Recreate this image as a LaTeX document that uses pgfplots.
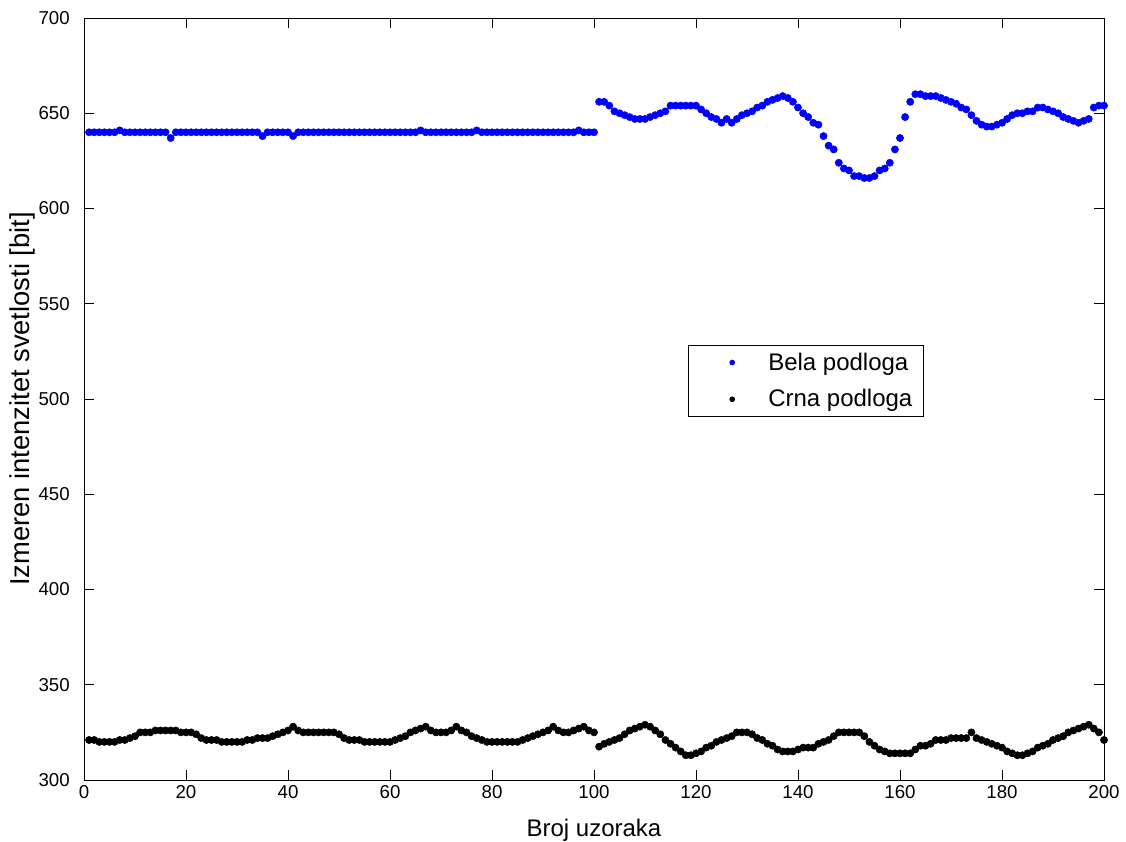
\documentclass[border=0pt]{standalone}
\usepackage{pgfplots}
\pgfplotsset{compat=1.18}
\usepackage{fontspec}
\setmainfont{Liberation Sans}
\begin{document}
\begin{tikzpicture}
\begin{axis}[name=ax, scale only axis, width=765pt, height=571.5pt,
  xmin=0, xmax=200, ymin=300, ymax=700,
  xtick={0,20,...,200}, ytick={300,350,...,700},
  tick align=inside, major tick length=7.5pt,
  tick style={black, line width=0.6pt}, axis line style={line width=0.7pt},
  /pgf/number format/assume math mode=true,
  ticklabel style={font=\fontsize{14}{16}\selectfont},
  yticklabel style={inner sep=0pt, xshift=-10.5pt},
  xticklabel style={inner sep=0pt, yshift=-4pt},
  xlabel={Broj uzoraka},
  ylabel={Izmeren intenzitet svetlosti [bit]},
  xlabel style={at={(axis description cs:0.5,-0.0735)}, anchor=base, inner sep=0pt, font=\fontsize{18}{20}\selectfont},
  ylabel style={at={(axis description cs:-0.0536,0.5)}, anchor=base, inner sep=0pt, font=\fontsize{20.5}{22}\selectfont},
  legend style={at={(axis cs:118.4,528.3)}, anchor=north west, draw=black, line width=0.6pt,
    font=\fontsize{18}{21}\selectfont, inner xsep=8pt, inner ysep=5.5pt, row sep=13pt, column sep=0pt,
    nodes={inner sep=0pt}, cells={anchor=west}},
  legend image code/.code={\path[draw=none] (0pt,0pt) -- (52pt,0pt); \path[#1, draw=none, mark size=1.8pt] plot[only marks] coordinates {(25pt,0pt)};},
]
\addplot[only marks, mark=*, color=blue, mark size=2.7pt] coordinates {
(1,640)(2,640)(3,640)(4,640)(5,640)(6,640)(7,641)(8,640)(9,640)(10,640)
(11,640)(12,640)(13,640)(14,640)(15,640)(16,640)(17,637)(18,640)(19,640)(20,640)
(21,640)(22,640)(23,640)(24,640)(25,640)(26,640)(27,640)(28,640)(29,640)(30,640)
(31,640)(32,640)(33,640)(34,640)(35,638)(36,640)(37,640)(38,640)(39,640)(40,640)
(41,638)(42,640)(43,640)(44,640)(45,640)(46,640)(47,640)(48,640)(49,640)(50,640)
(51,640)(52,640)(53,640)(54,640)(55,640)(56,640)(57,640)(58,640)(59,640)(60,640)
(61,640)(62,640)(63,640)(64,640)(65,640)(66,641)(67,640)(68,640)(69,640)(70,640)
(71,640)(72,640)(73,640)(74,640)(75,640)(76,640)(77,641)(78,640)(79,640)(80,640)
(81,640)(82,640)(83,640)(84,640)(85,640)(86,640)(87,640)(88,640)(89,640)(90,640)
(91,640)(92,640)(93,640)(94,640)(95,640)(96,640)(97,641)(98,640)(99,640)(100,640)
(101,656)(102,656)(103,654)(104,651)(105,650)(106,649)(107,648)(108,647)(109,647)(110,647)
(111,648)(112,649)(113,650)(114,651)(115,654)(116,654)(117,654)(118,654)(119,654)(120,654)
(121,652)(122,650)(123,648)(124,647)(125,645)(126,647)(127,645)(128,647)(129,649)(130,650)
(131,651)(132,653)(133,654)(134,656)(135,657)(136,658)(137,659)(138,658)(139,656)(140,653)
(141,650)(142,648)(143,645)(144,644)(145,638)(146,633)(147,631)(148,624)(149,621)(150,620)
(151,617)(152,617)(153,616)(154,616)(155,617)(156,620)(157,621)(158,624)(159,631)(160,637)
(161,648)(162,656)(163,660)(164,660)(165,659)(166,659)(167,659)(168,658)(169,657)(170,656)
(171,655)(172,653)(173,652)(174,649)(175,646)(176,644)(177,643)(178,643)(179,644)(180,645)
(181,647)(182,649)(183,650)(184,650)(185,651)(186,651)(187,653)(188,653)(189,652)(190,651)
(191,650)(192,648)(193,647)(194,646)(195,645)(196,646)(197,647)(198,653)(199,654)(200,654)
};
\addlegendentry{Bela podloga}
\addplot[only marks, mark=*, color=black, mark size=2.7pt] coordinates {
(1,321)(2,321)(3,320)(4,320)(5,320)(6,320)(7,321)(8,321)(9,322)(10,323)
(11,325)(12,325)(13,325)(14,326)(15,326)(16,326)(17,326)(18,326)(19,325)(20,325)
(21,325)(22,324)(23,322)(24,321)(25,321)(26,321)(27,320)(28,320)(29,320)(30,320)
(31,320)(32,321)(33,321)(34,322)(35,322)(36,322)(37,323)(38,324)(39,325)(40,326)
(41,328)(42,326)(43,325)(44,325)(45,325)(46,325)(47,325)(48,325)(49,325)(50,324)
(51,322)(52,321)(53,321)(54,321)(55,320)(56,320)(57,320)(58,320)(59,320)(60,320)
(61,321)(62,322)(63,323)(64,325)(65,326)(66,327)(67,328)(68,326)(69,325)(70,325)
(71,325)(72,326)(73,328)(74,326)(75,325)(76,323)(77,322)(78,321)(79,320)(80,320)
(81,320)(82,320)(83,320)(84,320)(85,320)(86,321)(87,322)(88,323)(89,324)(90,325)
(91,326)(92,328)(93,326)(94,325)(95,325)(96,326)(97,327)(98,328)(99,326)(100,325)
(101,317.5)(102,319)(103,320)(104,321)(105,322)(106,324)(107,326)(108,327)(109,328)(110,329)
(111,328)(112,326)(113,324)(114,321)(115,319)(116,317)(117,315)(118,313)(119,313)(120,314)
(121,315)(122,317)(123,318)(124,320)(125,321)(126,322)(127,323)(128,325)(129,325)(130,325)
(131,324)(132,322)(133,321)(134,319)(135,318)(136,316)(137,315)(138,315)(139,315)(140,316)
(141,317)(142,317)(143,317)(144,319)(145,320)(146,321)(147,323)(148,325)(149,325)(150,325)
(151,325)(152,325)(153,323)(154,320)(155,318)(156,316)(157,315)(158,314)(159,314)(160,314)
(161,314)(162,314)(163,316)(164,318)(165,318)(166,319)(167,321)(168,321)(169,321)(170,322)
(171,322)(172,322)(173,322)(174,325)(175,322)(176,321)(177,320)(178,319)(179,318)(180,317)
(181,315)(182,314)(183,313)(184,313)(185,314)(186,315)(187,317)(188,318)(189,319)(190,321)
(191,322)(192,323)(193,325)(194,326)(195,327)(196,328)(197,329)(198,327)(199,325)(200,321)
};
\addlegendentry{Crna podloga}
\end{axis}
\path ([xshift=-63pt,yshift=-45.75pt]ax.south west) rectangle ([xshift=16.5pt,yshift=13.5pt]ax.north east);
\end{tikzpicture}
\end{document}
